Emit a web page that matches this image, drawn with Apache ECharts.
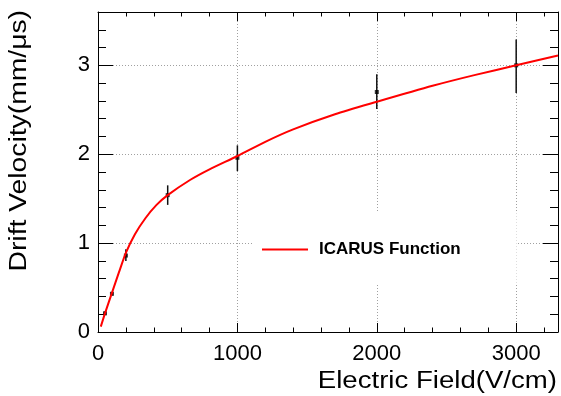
<!DOCTYPE html>
<html>
<head>
<meta charset="utf-8">
<script src="https://cdn.jsdelivr.net/npm/echarts@6/dist/echarts.min.js"></script>
<style>html,body{margin:0;padding:0;background:#fff}#c{width:561px;height:396px}</style>
</head>
<body>
<div id="c"></div>
<script>
// Measured data points (Electric field V/cm, drift velocity mm/us)
const fields   = [50, 100, 200, 500, 1000, 2000, 3000];
const velocity = [0.21, 0.43, 0.86, 1.54, 1.96, 2.70, 3.00];
const errLow   = [0.19, 0.41, 0.80, 1.43, 1.81, 2.51, 2.69];
const errHigh  = [0.23, 0.45, 0.93, 1.65, 2.10, 2.90, 3.29];

// ICARUS function curve
const curveField = [20, 50, 100, 150, 200, 265, 340, 420, 500, 660, 800, 1000, 1200, 1400, 1700, 2000, 2400, 2700, 3000, 3300];
const curveVel   = [0.06, 0.21, 0.44, 0.67, 0.89, 1.10, 1.28, 1.43, 1.54, 1.71, 1.83, 1.98, 2.14, 2.28, 2.45, 2.59, 2.77, 2.89, 3.00, 3.11];

const xTicks = [0, 1000, 2000, 3000];
const yTicks = [0, 1, 2, 3];
const xTitle = 'Electric Field(V/cm)';
const yTitle = 'Drift Velocity(mm/μs)';
const legendName = 'ICARUS Function';

const FONT = 'Liberation Sans, Arial, Helvetica, sans-serif';
const XMIN = 0, XMAX = 3300, YMIN = 0, YMAX = 3.6;
const GRID = {left: 98, top: 12, width: 460, height: 320, containLabel: false};

const chart = echarts.init(document.getElementById('c'), null, {renderer: 'canvas'});

function tick(len) {
  return {show: true, inside: true, length: len, lineStyle: {color: '#000', width: 1}};
}
function line(show) {
  return {show: show, onZero: false, lineStyle: {color: '#000', width: 1}};
}
function xAxisDef(opts) {
  return Object.assign({
    type: 'value', min: XMIN, max: XMAX,
    axisLine: line(false),
    axisTick: tick(9),
    axisLabel: {show: false},
    splitLine: {show: false}
  }, opts);
}
function yAxisDef(opts) {
  return Object.assign({
    type: 'value', min: YMIN, max: YMAX,
    axisLine: line(false),
    axisTick: tick(15),
    axisLabel: {show: false},
    splitLine: {show: false}
  }, opts);
}

const option = {
  backgroundColor: '#fff',
  animation: false,
  grid: [Object.assign({}, GRID), Object.assign({}, GRID)],
  xAxis: [
    xAxisDef({gridIndex: 0, position: 'bottom', interval: 1000,
      axisLine: line(true),
      axisLabel: {show: true, color: '#000', fontSize: 22, fontFamily: FONT, margin: 11, showMaxLabel: false,
        formatter: v => (xTicks.indexOf(v) >= 0 ? String(v) : '')},
      splitLine: {show: true, lineStyle: {color: '#a0a0a0', width: 1, type: [1, 2]}}
    }),
    xAxisDef({gridIndex: 0, position: 'top', interval: 1000, axisLine: line(true)}),
    xAxisDef({gridIndex: 1, position: 'bottom', interval: 200, axisTick: tick(4.5)}),
    xAxisDef({gridIndex: 1, position: 'top', interval: 200, axisTick: tick(4.5)})
  ],
  yAxis: [
    yAxisDef({gridIndex: 0, position: 'left', interval: 1,
      axisLine: line(true),
      axisLabel: {show: true, color: '#000', fontSize: 22, fontFamily: FONT, margin: 8, showMaxLabel: false,
        formatter: v => (yTicks.indexOf(v) >= 0 ? String(v) : '')},
      splitLine: {show: true, lineStyle: {color: '#a0a0a0', width: 1, type: [1, 2]}}
    }),
    yAxisDef({gridIndex: 0, position: 'right', interval: 1, axisLine: line(true)}),
    yAxisDef({gridIndex: 1, position: 'left', interval: 0.2, axisTick: tick(8)}),
    yAxisDef({gridIndex: 1, position: 'right', interval: 0.2, axisTick: tick(8)})
  ],
  legend: {
    show: true,
    data: [legendName],
    left: 252, top: 213,
    orient: 'horizontal',
    padding: [28, 56, 26, 10],
    backgroundColor: '#fff',
    icon: 'rect',
    itemWidth: 46, itemHeight: 2,
    selectedMode: false,
    textStyle: {color: '#000', fontSize: 17, fontWeight: 'bold', fontFamily: FONT, padding: [0, 0, 0, 6]}
  },
  graphic: [
    {type: 'text', x: 557, y: 382, scaleX: 1.2, scaleY: 1,
      style: {text: xTitle, fill: '#000', font: '23px ' + FONT, textAlign: 'right', textVerticalAlign: 'middle'}},
    {type: 'text', x: 20, y: 10, rotation: Math.PI / 2, scaleX: 1.23, scaleY: 1,
      style: {text: yTitle, fill: '#000', font: '23px ' + FONT, textAlign: 'right', textVerticalAlign: 'middle'}}
  ],
  series: [
    {
      type: 'custom', name: 'errors', xAxisIndex: 0, yAxisIndex: 0, z: 2,
      data: fields.map((f, i) => [f, velocity[i], errLow[i], errHigh[i]]),
      renderItem: function (params, api) {
        const x = api.value(0);
        const p1 = api.coord([x, api.value(2)]);
        const p2 = api.coord([x, api.value(3)]);
        return {type: 'line', shape: {x1: p1[0], y1: p1[1], x2: p2[0], y2: p2[1]},
          style: {stroke: '#111', lineWidth: 1.5}};
      }
    },
    {
      type: 'scatter', name: 'data', xAxisIndex: 0, yAxisIndex: 0, z: 2,
      symbol: 'rect', symbolSize: 4, itemStyle: {color: '#000'},
      data: fields.map((f, i) => [f, velocity[i]])
    },
    {
      type: 'line', name: legendName, xAxisIndex: 0, yAxisIndex: 0, z: 3,
      smooth: 0.25, showSymbol: false, symbol: 'none',
      lineStyle: {color: '#ff0000', width: 2}, itemStyle: {color: '#ff0000'},
      data: curveField.map((f, i) => [f, curveVel[i]])
    }
  ]
};
chart.setOption(option);
</script>
</body>
</html>
